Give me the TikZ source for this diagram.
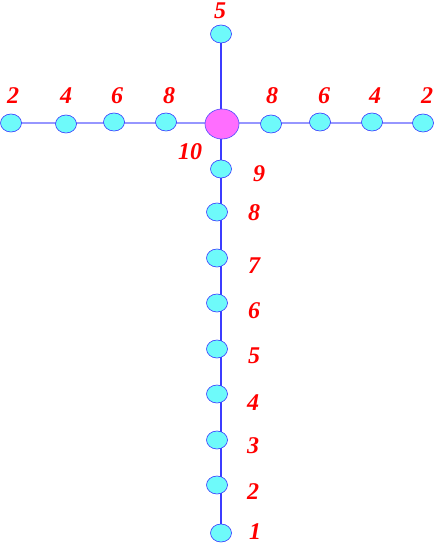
\documentclass[tikz,border=0pt]{standalone}
\usepackage{fontspec}
\newfontfamily\labelfont{Liberation Serif}
\usepackage{tikz}
\usetikzlibrary{shapes.geometric,backgrounds}
\definecolor{nodecyan}{RGB}{110,250,250}
\definecolor{hubpink}{RGB}{255,110,255}
\definecolor{armblue}{RGB}{150,150,255}
\definecolor{stemblue}{RGB}{60,60,255}
\tikzset{
  leaf/.style={ellipse,draw=blue!80,fill=nodecyan,line width=0.6pt,
    minimum width=21pt,minimum height=18pt,inner sep=0pt},
  hub/.style={ellipse,draw=blue!70,fill=hubpink,line width=0.6pt,
    minimum width=34pt,minimum height=30pt,inner sep=0pt},
  numlabel/.style={text=red,font=\labelfont\fontsize{24}{26}\selectfont\bfseries\itshape,inner sep=0pt},
  armline/.style={draw=armblue,line width=1.1pt},
  stemline/.style={draw=stemblue,line width=1.1pt},
}

\begin{document}
\begin{tikzpicture}[x=1pt,y=-1pt]
  \useasboundingbox (0,0) rectangle (436,545);
  % hub and top
  \node[hub]  (hub) at (222,124) {};
  \node[leaf] (top) at (221,34)  {};
  % left arm
  \node[leaf] (l2) at (11,123)  {};
  \node[leaf] (l4) at (66,124)  {};
  \node[leaf] (l6) at (114,122) {};
  \node[leaf] (l8) at (166,122) {};
  % right arm
  \node[leaf] (r8) at (271,124) {};
  \node[leaf] (r6) at (320,122) {};
  \node[leaf] (r4) at (372,122) {};
  \node[leaf] (r2) at (423,123) {};
  % stem
  \node[leaf] (s9) at (221,169) {};
  \node[leaf] (s8) at (217,212) {};
  \node[leaf] (s7) at (217,258) {};
  \node[leaf] (s6) at (217,303) {};
  \node[leaf] (s5) at (217,349) {};
  \node[leaf] (s4) at (217,394) {};
  \node[leaf] (s3) at (217,440) {};
  \node[leaf] (s2) at (217,485) {};
  \node[leaf] (s1) at (221,533) {};
  % labels
  \node[numlabel] (ltop) at (220,11)  {5};
  \node[numlabel] (ll2) at (13,96)  {2};
  \node[numlabel] (ll4) at (66,96)  {4};
  \node[numlabel] (ll6) at (117,96) {6};
  \node[numlabel] (ll8) at (169,96) {8};
  \node[numlabel] (lr8) at (272,96) {8};
  \node[numlabel] (lr6) at (324,96) {6};
  \node[numlabel] (lr4) at (375,96) {4};
  \node[numlabel] (lr2) at (427,96) {2};
  \node[numlabel] (lhub) at (190,152) {10};
  \node[numlabel] (ls9) at (259,174) {9};
  \node[numlabel] (ls8) at (254,213) {8};
  \node[numlabel] (ls7) at (254,266) {7};
  \node[numlabel] (ls6) at (254,311) {6};
  \node[numlabel] (ls5) at (254,356) {5};
  \node[numlabel] (ls4) at (253,403) {4};
  \node[numlabel] (ls3) at (253,446) {3};
  \node[numlabel] (ls2) at (253,492) {2};
  \node[numlabel] (ls1) at (255,532) {1};
  \begin{scope}[on background layer]
    \draw[armline] (l2.center) -- (r2.center);
    \draw[stemline] (top.center) -- (s1.center);
  \end{scope}
\end{tikzpicture}
\end{document}
